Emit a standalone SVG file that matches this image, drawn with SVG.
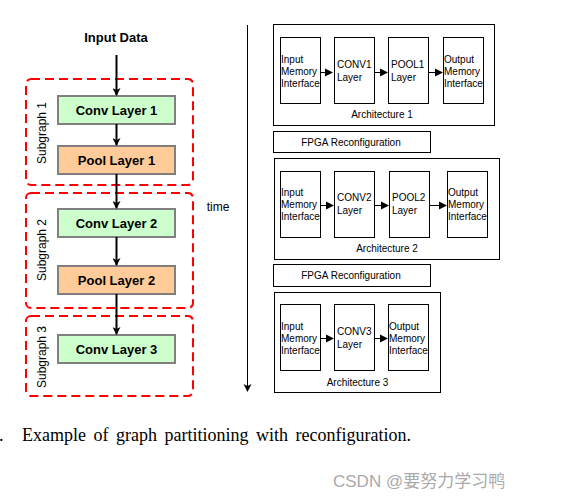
<svg xmlns="http://www.w3.org/2000/svg" width="567" height="499" viewBox="0 0 567 499">
<style>
.sg{fill:none;stroke:#ff0000;stroke-width:2;stroke-dasharray:9,5}
.conv{fill:#ccffcc;stroke:#808080;stroke-width:2}
.pool{fill:#ffcc99;stroke:#808080;stroke-width:2}
.lbl{font-family:"Liberation Sans",Arial,sans-serif;font-weight:bold;font-size:13px;text-anchor:middle;fill:#000}
.sgl{font-family:"Liberation Sans",Arial,sans-serif;font-size:12px;text-anchor:middle;fill:#000}
.box{fill:none;stroke:#000;stroke-width:1}
.ib{fill:#fff;stroke:#000;stroke-width:1}
.t{font-family:"Liberation Sans",Arial,sans-serif;font-size:10px;fill:#000}
.tc{font-family:"Liberation Sans",Arial,sans-serif;font-size:10px;fill:#000;text-anchor:middle}
.ln{stroke:#000;stroke-width:2;fill:none}
.ln1{stroke:#000;stroke-width:1;fill:none}
.hd{fill:#000;stroke:none}
</style>
<defs>
<marker id="ah" markerWidth="8" markerHeight="8" refX="7" refY="4" orient="auto" markerUnits="userSpaceOnUse"><path d="M0,0 L8,4 L0,8 L2,4 Z" fill="#000"/></marker>
</defs>

<text class="lbl" x="116" y="42">Input Data</text>

<g id="subgraph1">
<rect class="sg" x="26" y="79" width="167" height="106" rx="5"/>
<text class="sgl" transform="translate(45.5,133) rotate(-90)">Subgraph 1</text>
</g>
<g id="subgraph2">
<rect class="sg" x="26" y="193" width="167" height="115" rx="5"/>
<text class="sgl" transform="translate(45.5,250) rotate(-90)">Subgraph 2</text>
</g>
<g id="subgraph3">
<rect class="sg" x="26" y="316" width="167" height="80" rx="5"/>
<text class="sgl" transform="translate(45.5,357) rotate(-90)">Subgraph 3</text>
</g>

<g id="conv1"><rect class="conv" x="58" y="96" width="117" height="28"/><text class="lbl" x="116.5" y="115">Conv Layer 1</text></g>
<g id="pool1"><rect class="pool" x="58" y="146" width="117" height="28"/><text class="lbl" x="116.5" y="165">Pool Layer 1</text></g>
<g id="conv2"><rect class="conv" x="58" y="209" width="117" height="28"/><text class="lbl" x="116.5" y="228">Conv Layer 2</text></g>
<g id="pool2"><rect class="pool" x="58" y="266" width="117" height="28"/><text class="lbl" x="116.5" y="285">Pool Layer 2</text></g>
<g id="conv3"><rect class="conv" x="58" y="335" width="117" height="28"/><text class="lbl" x="116.5" y="354">Conv Layer 3</text></g>

<text class="sgl" x="218" y="211" font-size="11">time</text>

<g id="arch1">
<rect class="box" x="273.5" y="24.5" width="221" height="101"/>
<text class="tc" x="382" y="118">Architecture 1</text>
</g>
<g id="a1-in"><rect class="ib" x="280.5" y="37.5" width="40" height="66"/><text class="t" x="281" y="63">Input</text><text class="t" x="281" y="75">Memory</text><text class="t" x="281" y="87">Interface</text></g>
<g id="a1-conv"><rect class="ib" x="334.5" y="37.5" width="40" height="66"/><text class="t" x="337" y="68">CONV1</text><text class="t" x="337" y="81">Layer</text></g>
<g id="a1-pool"><rect class="ib" x="388.5" y="37.5" width="40" height="66"/><text class="t" x="391" y="68">POOL1</text><text class="t" x="391" y="81">Layer</text></g>
<g id="a1-out"><rect class="ib" x="443.5" y="37.5" width="40" height="66"/><text class="t" x="444" y="63">Output</text><text class="t" x="444" y="75">Memory</text><text class="t" x="444" y="87">Interface</text></g>

<g id="reconf1"><rect class="box" x="273.5" y="131.5" width="157" height="21"/><text class="tc" x="351" y="146">FPGA Reconfiguration</text></g>

<g id="arch2">
<rect class="box" x="274.5" y="158.5" width="225" height="101"/>
<text class="tc" x="387" y="252">Architecture 2</text>
</g>
<g id="a2-in"><rect class="ib" x="280.5" y="171.5" width="40" height="66"/><text class="t" x="281" y="196">Input</text><text class="t" x="281" y="208">Memory</text><text class="t" x="281" y="220">Interface</text></g>
<g id="a2-conv"><rect class="ib" x="334.5" y="171.5" width="40" height="66"/><text class="t" x="337" y="201">CONV2</text><text class="t" x="337" y="214">Layer</text></g>
<g id="a2-pool"><rect class="ib" x="389.5" y="171.5" width="40" height="66"/><text class="t" x="392" y="201">POOL2</text><text class="t" x="392" y="214">Layer</text></g>
<g id="a2-out"><rect class="ib" x="447.5" y="171.5" width="40" height="66"/><text class="t" x="448" y="196">Output</text><text class="t" x="448" y="208">Memory</text><text class="t" x="448" y="220">Interface</text></g>

<g id="reconf2"><rect class="box" x="273.5" y="264.5" width="157" height="22"/><text class="tc" x="351" y="279">FPGA Reconfiguration</text></g>

<g id="arch3">
<rect class="box" x="274.5" y="292.5" width="166" height="100"/>
<text class="tc" x="357.5" y="386">Architecture 3</text>
</g>
<g id="a3-in"><rect class="ib" x="280.5" y="304.5" width="40" height="66"/><text class="t" x="281" y="330">Input</text><text class="t" x="281" y="342">Memory</text><text class="t" x="281" y="354">Interface</text></g>
<g id="a3-conv"><rect class="ib" x="334.5" y="304.5" width="40" height="66"/><text class="t" x="337" y="335">CONV3</text><text class="t" x="337" y="348">Layer</text></g>
<g id="a3-out"><rect class="ib" x="388.5" y="304.5" width="40" height="66"/><text class="t" x="389" y="330">Output</text><text class="t" x="389" y="342">Memory</text><text class="t" x="389" y="354">Interface</text></g>

<g id="connectors">
<line class="ln" x1="116.5" y1="55" x2="116.5" y2="95" marker-end="url(#ah)"/>
<line class="ln" x1="116.5" y1="124" x2="116.5" y2="145" marker-end="url(#ah)"/>
<line class="ln" x1="116.5" y1="174" x2="116.5" y2="208" marker-end="url(#ah)"/>
<line class="ln" x1="116.5" y1="237" x2="116.5" y2="265" marker-end="url(#ah)"/>
<line class="ln" x1="116.5" y1="294" x2="116.5" y2="334" marker-end="url(#ah)"/>
<line class="ln1" x1="247.5" y1="25" x2="247.5" y2="388"/>
<polygon class="hd" points="243.5,384 247.5,392 251.5,384 247.5,386"/>
<line class="ln1" x1="321" y1="72.5" x2="326" y2="72.5"/><polygon class="hd" points="325,68.5 333,72.5 325,76.5"/>
<line class="ln1" x1="375" y1="72.5" x2="380" y2="72.5"/><polygon class="hd" points="380,68.5 388,72.5 380,76.5"/>
<line class="ln1" x1="429" y1="72.5" x2="435" y2="72.5"/><polygon class="hd" points="435,68.5 443,72.5 435,76.5"/>
<line class="ln1" x1="321" y1="205.5" x2="327" y2="205.5"/><polygon class="hd" points="326,201.5 334,205.5 326,209.5"/>
<line class="ln1" x1="375" y1="205.5" x2="381" y2="205.5"/><polygon class="hd" points="381,201.5 389,205.5 381,209.5"/>
<line class="ln1" x1="430" y1="205.5" x2="439" y2="205.5"/><polygon class="hd" points="439,201.5 447,205.5 439,209.5"/>
<line class="ln1" x1="321" y1="338.5" x2="327" y2="338.5"/><polygon class="hd" points="326,334.5 334,338.5 326,342.5"/>
<line class="ln1" x1="375" y1="338.5" x2="380" y2="338.5"/><polygon class="hd" points="380,334.5 388,338.5 380,342.5"/>
</g>

<text x="-1" y="441" font-family="'Liberation Serif',serif" font-size="18" fill="#000">.</text>
<text x="22" y="441" font-family="'Liberation Serif',serif" font-size="18" fill="#000" word-spacing="3">Example of graph partitioning with reconfiguration.</text>
<text x="333" y="487" font-family="'Liberation Sans','Noto Sans CJK SC',sans-serif" font-size="17" fill="#aaaaaa">CSDN @要努力学习鸭</text>
</svg>
